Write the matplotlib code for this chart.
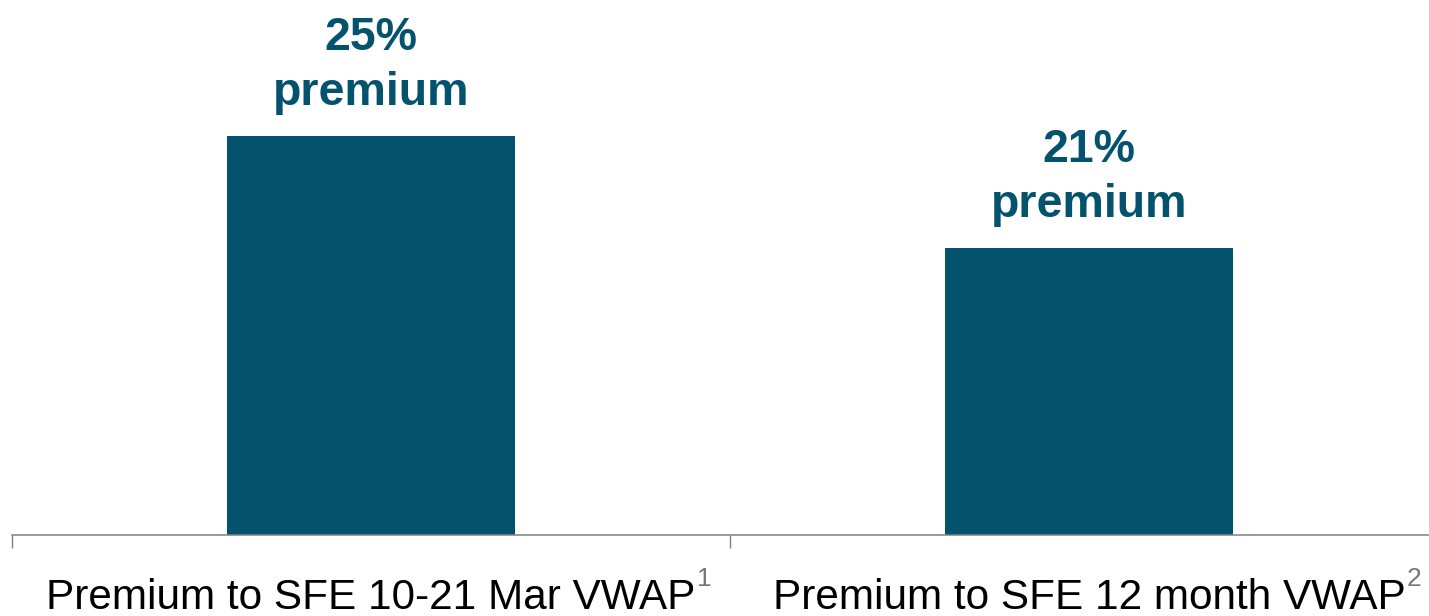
import matplotlib

matplotlib.use("Agg")
import matplotlib.pyplot as plt
from matplotlib.ticker import FixedLocator

plt.rcParams["font.family"] = ["Liberation Sans", "DejaVu Sans"]

BAR = "#03536f"
GREY = "#808080"

categories = ["Premium to SFE 10-21 Mar VWAP", "Premium to SFE 12 month VWAP"]
footnotes = ["1", "2"]
premium = [25, 21]

fig = plt.figure(figsize=(14.29, 6.16), dpi=100)
# the axes runs slightly past the right edge, so only the left/middle ticks show
ax = fig.add_axes([12 / 1429, 81 / 616, 1436 / 1429, 535 / 616])

x = list(range(len(categories)))
ax.bar(x, premium, width=0.4, color=BAR, zorder=2)
for xi, v in zip(x, premium):
    ax.annotate(f"{v}%\npremium", xy=(xi, v), xytext=(0, 15),
                textcoords="offset points", ha="center", va="bottom",
                fontsize=33.5, fontweight="bold", color=BAR, linespacing=1.33)

ax.set_xlim(-0.5, len(categories) - 0.5)
ax.set_ylim(10.75, 29.86)
ax.set_yticks([])
for side in ("left", "right", "top"):
    ax.spines[side].set_visible(False)
ax.spines["bottom"].set_color(GREY)
ax.spines["bottom"].set_linewidth(1.1)

# category boundaries get the tick marks, labels sit at the centres
ax.set_xticks(x)
ax.set_xticklabels(categories, fontsize=30.4, color="black")
ax.tick_params(axis="x", which="major", length=0, pad=31)
ax.xaxis.set_minor_locator(FixedLocator([i - 0.5 for i in range(len(categories) + 1)]))
ax.tick_params(axis="x", which="minor", length=9, width=1.0, color=GREY, direction="out")

# footnote markers raised off the end of each category label
for lab, note in zip(ax.get_xticklabels(), footnotes):
    ax.annotate(note, xy=(1, 1), xycoords=lab, xytext=(1, 8),
                textcoords="offset points", ha="left", va="top",
                fontsize=19, color="#777777")

fig.savefig("out.png", dpi=100, facecolor="white")
